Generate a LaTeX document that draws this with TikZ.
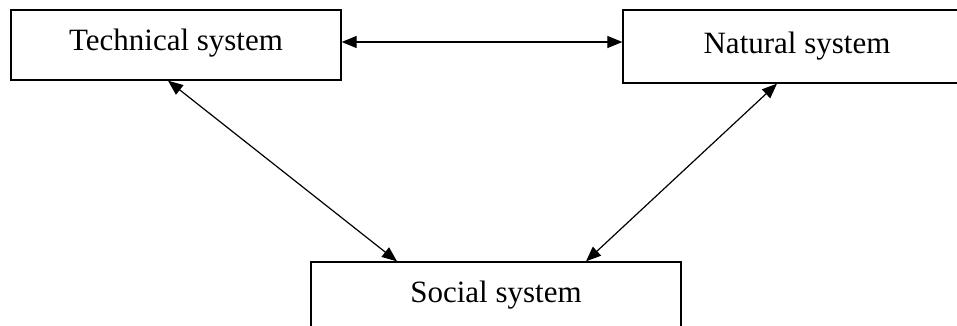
\documentclass[tikz,border=0pt]{standalone}
\usepackage{fontspec}
\setmainfont{Liberation Serif}
\usetikzlibrary{arrows.meta,calc}
\begin{document}
\begin{tikzpicture}[x=1pt,y=1pt,
  sysbox/.style={draw, line width=1.3pt, inner sep=0pt, minimum height=70pt,
    font=\fontsize{31}{36}\selectfont, text depth=10pt},
  link/.style={line width=1.2pt, {Triangle[length=15pt,width=12pt]}-{Triangle[length=15pt,width=12pt]}}]
\useasboundingbox (0,0) rectangle (957,325);
\clip (0,0) rectangle (957,325);
\node[sysbox, minimum width=330pt] (tech) at (176,280) {Technical system};
\node[sysbox, minimum width=348pt, minimum height=73pt, text depth=8pt] (nat) at (797,278.5) {Natural system};
\node[sysbox, minimum width=370pt] (soc) at (496,28) {Social system};
\coordinate (hy) at (0,283);
\coordinate (t1) at (168,245);
\coordinate (s1) at (397,63);
\coordinate (n1) at (777,242);
\coordinate (s2) at (586,63);
\draw[link] (tech.east |- hy) -- (nat.west |- hy);
\draw[link] (tech.south -| t1) -- (soc.north -| s1);
\draw[link] (nat.south -| n1) -- (soc.north -| s2);
\end{tikzpicture}
\end{document}
